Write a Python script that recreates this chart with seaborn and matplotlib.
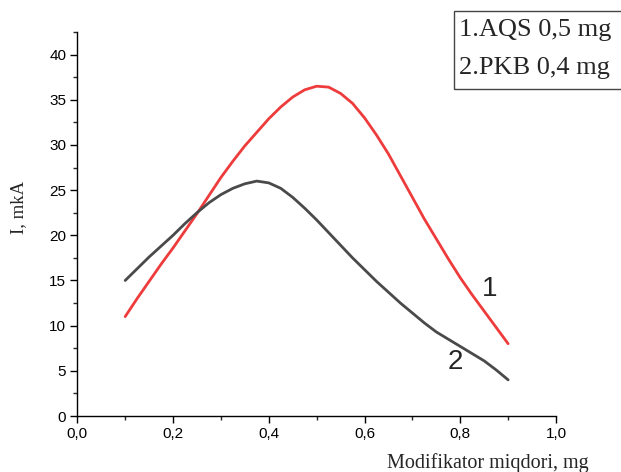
import numpy as np
import pandas as pd
import seaborn as sns
import matplotlib
matplotlib.use("Agg")
import matplotlib.pyplot as plt
from matplotlib.patches import Rectangle
from matplotlib.ticker import MultipleLocator, FuncFormatter

# ---- data ----
x_vals = [0.100, 0.125, 0.150, 0.175, 0.200, 0.225, 0.250, 0.275, 0.300,
          0.325, 0.350, 0.375, 0.400, 0.425, 0.450, 0.475, 0.500, 0.525,
          0.550, 0.575, 0.600, 0.625, 0.650, 0.675, 0.700, 0.725, 0.750,
          0.775, 0.800, 0.825, 0.850, 0.875, 0.900]
curve1 = [11.0, 13.0, 14.9, 16.8, 18.6, 20.5, 22.4, 24.4, 26.4,
          28.2, 29.9, 31.4, 32.9, 34.2, 35.3, 36.1, 36.5, 36.4,
          35.7, 34.6, 33.0, 31.1, 29.0, 26.6, 24.2, 21.8, 19.6,
          17.4, 15.3, 13.4, 11.6, 9.8, 8.0]
curve2 = [15.0, 16.3, 17.6, 18.8, 20.0, 21.3, 22.5, 23.6, 24.5,
          25.2, 25.7, 26.0, 25.8, 25.2, 24.2, 23.0, 21.7, 20.3,
          18.9, 17.5, 16.2, 14.9, 13.7, 12.5, 11.4, 10.3, 9.3,
          8.5, 7.7, 6.9, 6.1, 5.1, 4.0]
series_names = ["1", "2"]
legend_lines = ["1.AQS 0,5 mg", "2.PKB 0,4 mg"]
x_label = "Modifikator miqdori, mg"
y_label = "I, mkA"

df = pd.DataFrame({
    "x": x_vals + x_vals,
    "y": curve1 + curve2,
    "s": [series_names[0]] * len(x_vals) + [series_names[1]] * len(x_vals),
})

sns.set_style("ticks")
plt.rcParams["font.family"] = ["Liberation Sans", "DejaVu Sans"]

W, H = 621, 472
fig = plt.figure(figsize=(W / 100, H / 100), dpi=100)
ax = fig.add_axes([77.3 / W, (H - 416) / H, (556 - 77.3) / W, (416 - 32) / H])

sns.lineplot(data=df, x="x", y="y", hue="s",
             palette={"1": "#EE3B3B", "2": "#4A4A4A"},
             linewidth=2.0, legend=False, ax=ax)
for ln in ax.lines:
    ln.set_solid_joinstyle("round")

ax.set_xlim(0, 1.0)
ax.set_ylim(0, 42.5)
ax.xaxis.set_major_locator(MultipleLocator(0.2))
ax.xaxis.set_minor_locator(MultipleLocator(0.1))
ax.yaxis.set_major_locator(MultipleLocator(5))
ax.yaxis.set_minor_locator(MultipleLocator(2.5))
ax.xaxis.set_major_formatter(FuncFormatter(lambda v, p: f"{v:.1f}".replace(".", ",")))
ax.yaxis.set_major_formatter(FuncFormatter(lambda v, p: f"{v:.0f}"))

ax.tick_params(axis="both", which="major", direction="out", length=5, width=1,
               labelsize=11, colors="black", pad=3)
ax.tick_params(axis="both", which="minor", direction="out", length=3, width=1)
for sp in ["top", "right"]:
    ax.spines[sp].set_visible(False)
for sp in ["left", "bottom"]:
    ax.spines[sp].set_linewidth(1.0)
    ax.spines[sp].set_color("black")

ax.set_xlabel(x_label, fontfamily="Liberation Serif", fontsize=14.5)
ax.set_ylabel(y_label, fontfamily="Liberation Serif", fontsize=13.5)
ax.xaxis.set_label_coords(1.069, -0.122)
ax.xaxis.label.set_ha("right")
ax.xaxis.label.set_va("center")
ax.yaxis.set_label_coords(-0.122, 0.544)
ax.yaxis.label.set_va("center")

# curve labels
ax.text(0.862, 14.1, series_names[0], fontsize=20, ha="center", va="center")
ax.text(0.789, 6.0, series_names[1], fontsize=20, ha="center", va="center")

# legend box
fig.patches.append(Rectangle((454 / W, (H - 89) / H), 200 / W, 78 / H,
                             transform=fig.transFigure, fill=False,
                             edgecolor="#444444", linewidth=1.0))
fig.text(459 / W, (H - 30) / H, legend_lines[0], fontfamily="Liberation Serif",
         fontsize=19, ha="left", va="center")
fig.text(459 / W, (H - 68) / H, legend_lines[1], fontfamily="Liberation Serif",
         fontsize=19, ha="left", va="center")

fig.savefig("out.png", dpi=100)
